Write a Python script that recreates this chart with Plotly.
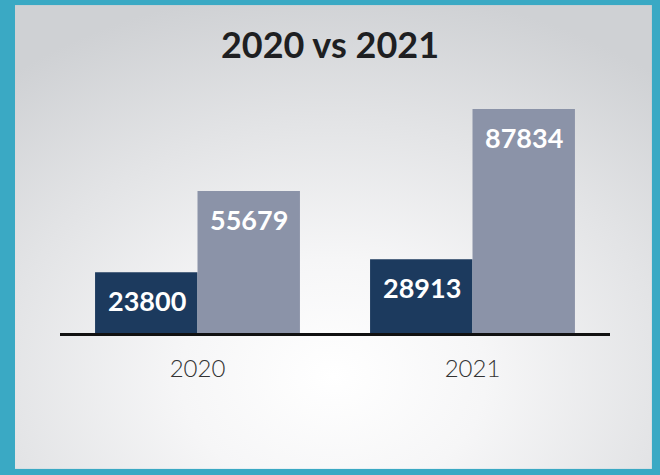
import base64
import plotly.graph_objects as go

categories = ["2020", "2021"]
series_a = [23800, 28913]
series_b = [55679, 87834]
title_text = "2020 vs 2021"

dark = "#1c3a5e"
light = "#8b93a8"

fig = go.Figure()
fig.add_trace(go.Bar(x=categories, y=series_a, marker=dict(color=dark, line=dict(width=0)), hoverinfo="skip"))
fig.add_trace(go.Bar(x=categories, y=series_b, marker=dict(color=light, line=dict(width=0)), hoverinfo="skip"))

annotations = []
for vals, shift in ((series_a, -51), (series_b, 51)):
    for i, v in enumerate(vals):
        annotations.append(dict(x=i, y=v, xref="x", yref="y", text=f"<b>{v}</b>", showarrow=False,
                                xshift=shift, yanchor="top", yshift=-10,
                                font=dict(family="Lato, 'Open Sans', sans-serif", size=27, color="white")))

svg = (
    '<svg xmlns="http://www.w3.org/2000/svg" width="637" height="464" viewBox="0 0 637 464" preserveAspectRatio="none">'
    '<defs><radialGradient id="g" cx="0.5" cy="0.8" r="0.8" gradientTransform="translate(0.5 0.8) scale(1 1.05) translate(-0.5 -0.8)">'
    '<stop offset="0" stop-color="#ffffff"/>'
    '<stop offset="0.3" stop-color="#f6f6f7"/>'
    '<stop offset="0.65" stop-color="#e3e4e6"/>'
    '<stop offset="1" stop-color="#cfd1d4"/>'
    '</radialGradient></defs>'
    '<rect width="637" height="464" fill="url(#g)"/></svg>'
)
src = "data:image/svg+xml;base64," + base64.b64encode(svg.encode()).decode()

fig.update_layout(
    width=660, height=475,
    margin=dict(l=60, r=50, t=78, b=142),
    paper_bgcolor="#3aa9c4",
    plot_bgcolor="rgba(0,0,0,0)",
    barmode="group", bargap=0.255, bargroupgap=0,
    showlegend=False,
    title=dict(text="<b>" + title_text + "</b>", x=0.5, xanchor="center", y=0.905, yanchor="middle",
               font=dict(family="Lato, 'Open Sans', sans-serif", size=36, color="#1e1f22")),
    xaxis=dict(type="category", range=[-0.5, 1.5], showline=True, linecolor="#111111", linewidth=3,
               showgrid=False, ticks="", ticklabelstandoff=12,
               tickfont=dict(family="Lato, sans-serif", size=24, color="#333333", weight=300)),
    yaxis=dict(range=[0, 100000], visible=False, showgrid=False, zeroline=False),
    annotations=annotations,
    images=[dict(source=src, xref="paper", yref="paper", x=-0.0818, y=1.286, sizex=1.158, sizey=1.819,
                 xanchor="left", yanchor="top", sizing="stretch", layer="below")],
)
fig.write_html("out.html", config={"displayModeBar": False},
               post_script="document.body.style.margin='0';document.body.style.background='#3aa9c4';")
